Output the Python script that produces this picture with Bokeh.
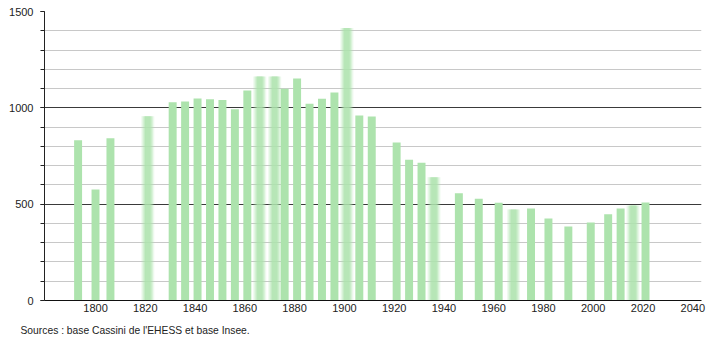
from bokeh.plotting import figure
from bokeh.models import Range1d, FixedTicker, Title
from bokeh.embed import file_html
from bokeh.resources import INLINE

years = [1793, 1800, 1806, 1821, 1831, 1836, 1841, 1846, 1851, 1856, 1861, 1866,
         1872, 1876, 1881, 1886, 1891, 1896, 1901, 1906, 1911, 1921, 1926, 1931,
         1936, 1946, 1954, 1962, 1968, 1975, 1982, 1990, 1999, 2006, 2011, 2016, 2021]
population = [832, 576, 842, 956, 1029, 1033, 1048, 1045, 1041, 993, 1090, 1163,
              1163, 1099, 1152, 1021, 1047, 1080, 1415, 960, 955, 820, 730, 715,
              640, 557, 528, 507, 472, 477, 426, 384, 405, 448, 477, 493, 509]
blurred_years = [1821, 1866, 1872, 1901, 1936, 1968, 2016]
x_ticks = list(range(1800, 2041, 20))
y_major_ticks = [0, 500, 1000, 1500]
y_minor_ticks = list(range(0, 1501, 100))
source_note = "Sources : base Cassini de l'EHESS et base Insee."

BAR = "#ade3ad"
FONT = "Liberation Sans"

p = figure(width=710, height=340, output_backend="svg", toolbar_location=None,
           x_range=Range1d(1779.5, 2043.5), y_range=Range1d(0, 1500),
           min_border_left=44, min_border_right=9, min_border_top=11,
           min_border_bottom=40, background_fill_color="white",
           border_fill_color="white")
p.outline_line_color = None
p.xgrid.visible = False

p.ygrid.ticker = FixedTicker(ticks=y_major_ticks, minor_ticks=y_minor_ticks)
p.ygrid.grid_line_color = "#3a3a3a"
p.ygrid.grid_line_width = 1
p.ygrid.minor_grid_line_color = "#c8c8c8"

sharp_x = [y for y in years if y not in blurred_years]
sharp_top = [v for y, v in zip(years, population) if y not in blurred_years]
blur_x = [y for y in years if y in blurred_years]
blur_top = [v for y, v in zip(years, population) if y in blurred_years]

p.vbar(x=sharp_x, top=sharp_top, bottom=0, width=3.2, fill_color=BAR, line_color=None)
for w, a in [(5.2, 0.22), (4.2, 0.3), (3.2, 0.45), (2.2, 0.6)]:
    p.vbar(x=blur_x, top=blur_top, bottom=0, width=w, fill_color=BAR,
           fill_alpha=a, line_color=None)

ax = p.yaxis[0]
ax.ticker = FixedTicker(ticks=y_major_ticks, minor_ticks=y_minor_ticks)
ax.axis_line_color = "#222222"
ax.major_tick_line_color = "#222222"
ax.minor_tick_line_color = "#222222"
ax.major_tick_out = 4
ax.major_tick_in = 0
ax.minor_tick_out = 4
ax.minor_tick_in = 0
ax.major_label_standoff = 7
ax.major_label_text_font = FONT
ax.major_label_text_font_size = "11px"
ax.major_label_text_color = "#222222"

bx = p.xaxis[0]
bx.ticker = FixedTicker(ticks=x_ticks)
bx.axis_line_color = "#111111"
bx.major_tick_out = 0
bx.major_tick_in = 0
bx.minor_tick_out = 0
bx.minor_tick_in = 0
bx.major_label_standoff = 3
bx.major_label_text_font = FONT
bx.major_label_text_font_size = "11px"
bx.major_label_text_color = "#222222"
# invisible spacer label to push the source note a few pixels lower
bx.axis_label = "\u00a0"
bx.axis_label_text_font_size = "3px"
bx.axis_label_standoff = 0

note = Title(text=source_note, align="left", offset=-24, text_font=FONT,
             text_font_size="10.3px", text_font_style="normal",
             text_color="#222222", standoff=4)
p.add_layout(note, "below")

open("out.html", "w").write(file_html(p, INLINE))
